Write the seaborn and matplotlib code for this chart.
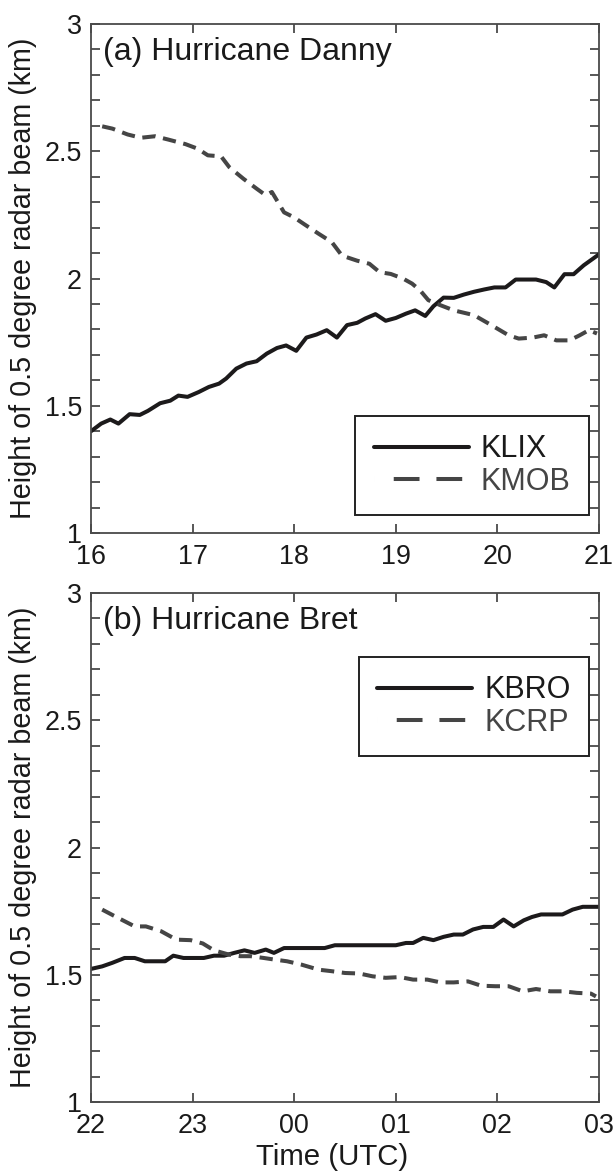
import numpy as np
import pandas as pd
import matplotlib
matplotlib.use("Agg")
import matplotlib.pyplot as plt
from matplotlib.lines import Line2D
from matplotlib.ticker import MultipleLocator, FixedLocator
import seaborn as sns

# ---------------- data ----------------
danny_klix_t = [16.0, 16.1, 16.19, 16.27, 16.38, 16.48, 16.56, 16.68, 16.78, 16.86,
                16.95, 17.06, 17.16, 17.26, 17.33, 17.43, 17.53, 17.63, 17.73, 17.83,
                17.92, 18.02, 18.12, 18.22, 18.32, 18.42, 18.52, 18.62, 18.70, 18.80,
                18.90, 19.0, 19.10, 19.19, 19.29, 19.37, 19.47, 19.57, 19.67, 19.77,
                19.87, 19.97, 20.08, 20.18, 20.28, 20.38, 20.48, 20.56, 20.66, 20.75,
                20.85, 21.0]
danny_klix_h = [1.40, 1.43, 1.446, 1.43, 1.467, 1.464, 1.48, 1.51, 1.52, 1.54,
                1.535, 1.554, 1.574, 1.587, 1.607, 1.646, 1.666, 1.675, 1.705, 1.727,
                1.737, 1.716, 1.768, 1.78, 1.797, 1.768, 1.817, 1.826, 1.843, 1.86,
                1.834, 1.845, 1.862, 1.875, 1.853, 1.891, 1.925, 1.924, 1.937, 1.948,
                1.957, 1.965, 1.965, 1.996, 1.996, 1.996, 1.986, 1.965, 2.017, 2.017,
                2.052, 2.095]
danny_kmob_t = [16.11, 16.21, 16.36, 16.49, 16.63, 16.76, 16.93, 17.05, 17.15, 17.28,
                17.36, 17.50, 17.63, 17.72, 17.78, 17.90, 18.0, 18.10, 18.24, 18.37,
                18.47, 18.62, 18.74, 18.84, 18.95, 19.07, 19.16, 19.24, 19.32, 19.44,
                19.57, 19.77, 19.94, 20.11, 20.21, 20.35, 20.46, 20.58, 20.71, 20.81,
                20.90, 20.98]
danny_kmob_h = [2.598, 2.589, 2.566, 2.553, 2.559, 2.546, 2.528, 2.51, 2.484, 2.48,
                2.438, 2.392, 2.353, 2.327, 2.34, 2.26, 2.24, 2.213, 2.176, 2.143,
                2.09, 2.07, 2.058, 2.025, 2.018, 2.0, 1.98, 1.953, 1.915, 1.895,
                1.875, 1.856, 1.817, 1.777, 1.764, 1.768, 1.777, 1.757, 1.757, 1.777,
                1.797, 1.784]

bret_kbro_t = [22.0, 22.11, 22.21, 22.33, 22.43, 22.53, 22.63, 22.73, 22.81, 22.91,
               23.01, 23.11, 23.21, 23.31, 23.41, 23.51, 23.61, 23.72, 23.80, 23.90,
               24.0, 24.10, 24.20, 24.30, 24.40, 24.50, 24.60, 24.70, 24.80, 24.90,
               25.0, 25.10, 25.17, 25.27, 25.37, 25.47, 25.57, 25.66, 25.76, 25.86,
               25.96, 26.06, 26.16, 26.26, 26.34, 26.43, 26.54, 26.64, 26.74, 26.84,
               27.0]
bret_kbro_h = [1.523, 1.533, 1.547, 1.566, 1.566, 1.553, 1.553, 1.553, 1.575, 1.566,
               1.566, 1.566, 1.575, 1.575, 1.586, 1.596, 1.586, 1.599, 1.586, 1.605,
               1.605, 1.605, 1.605, 1.605, 1.616, 1.616, 1.616, 1.616, 1.616, 1.616,
               1.616, 1.625, 1.625, 1.645, 1.636, 1.649, 1.658, 1.658, 1.678, 1.688,
               1.688, 1.717, 1.69, 1.714, 1.727, 1.737, 1.737, 1.737, 1.756, 1.767,
               1.767]
bret_kcrp_t = [22.11, 22.22, 22.43, 22.54, 22.69, 22.84, 22.98, 23.10, 23.21, 23.36,
               23.47, 23.57, 23.70, 23.80, 23.93, 24.07, 24.24, 24.37, 24.50, 24.64,
               24.77, 24.90, 25.04, 25.17, 25.31, 25.44, 25.57, 25.71, 25.84, 25.98,
               26.11, 26.25, 26.38, 26.52, 26.65, 26.78, 26.92, 26.97]
bret_kcrp_h = [1.756, 1.733, 1.69, 1.69, 1.671, 1.638, 1.636, 1.623, 1.596, 1.579,
               1.573, 1.573, 1.566, 1.56, 1.553, 1.54, 1.52, 1.514, 1.507, 1.505,
               1.494, 1.488, 1.491, 1.481, 1.481, 1.47, 1.47, 1.474, 1.457, 1.455,
               1.455, 1.435, 1.444, 1.435, 1.435, 1.429, 1.426, 1.415]

danny_ticks = [16, 17, 18, 19, 20, 21]
danny_ticklabels = ["16", "17", "18", "19", "20", "21"]
bret_ticks = [22, 23, 24, 25, 26, 27]
bret_ticklabels = ["22", "23", "00", "01", "02", "03"]
y_ticks = [1, 1.5, 2, 2.5, 3]
y_ticklabels = ["1", "1.5", "2", "2.5", "3"]

panel_titles = ["(a) Hurricane Danny", "(b) Hurricane Bret"]
ylabel_text = "Height of 0.5 degree radar beam (km)"
xlabel_text = "Time (UTC)"

# ---------------- style ----------------
sns.set_theme(style="ticks")
plt.rcParams["font.family"] = ["Liberation Sans", "DejaVu Sans"]

SOLID = "#1c1a1b"
DASH = "#454545"
SPINE = "#4a4a4a"
TXT = "#1a1a1a"
LW = 2.9
FS_TICK = 19.4
FS_YLAB = 20.7
FS_XLAB = 21.2
FS_TITLE = 23.0
FS_LEG = 22.0

fig = plt.figure(figsize=(6.15, 11.71), dpi=100)
ax_a = fig.add_axes([0.148, 0.5448, 0.826, 0.4347])
ax_b = fig.add_axes([0.148, 0.0589, 0.826, 0.4347])


def make_df(t1, h1, n1, t2, h2, n2):
    return pd.concat([
        pd.DataFrame({"t": t1, "h": h1, "station": n1}),
        pd.DataFrame({"t": t2, "h": h2, "station": n2}),
    ], ignore_index=True)


panels = [
    (ax_a, make_df(danny_klix_t, danny_klix_h, "KLIX", danny_kmob_t, danny_kmob_h, "KMOB"),
     ("KLIX", "KMOB"), danny_ticks, danny_ticklabels, (16, 21),
     "lower right", (0.980, 0.035)),
    (ax_b, make_df(bret_kbro_t, bret_kbro_h, "KBRO", bret_kcrp_t, bret_kcrp_h, "KCRP"),
     ("KBRO", "KCRP"), bret_ticks, bret_ticklabels, (22, 27),
     "upper right", (0.980, 0.874)),
]

for i, (ax, df, names, xt, xtl, xlim, lloc, lanchor) in enumerate(panels):
    sns.lineplot(data=df, x="t", y="h", hue="station", style="station",
                 palette={names[0]: SOLID, names[1]: DASH},
                 dashes={names[0]: "", names[1]: (3.3, 1.9)},
                 linewidth=LW, ax=ax, legend=False, sort=False)
    ax.set_xlim(*xlim)
    ax.set_ylim(1, 3)
    ax.xaxis.set_major_locator(FixedLocator(xt))
    ax.set_xticklabels(xtl)
    ax.yaxis.set_major_locator(FixedLocator(y_ticks))
    ax.set_yticklabels(y_ticklabels)
    ax.yaxis.set_minor_locator(MultipleLocator(0.1))
    ax.tick_params(which="both", direction="in", top=True, right=True,
                   length=6.5, width=1.3, color=SPINE, labelsize=FS_TICK,
                   labelcolor=TXT)
    ax.tick_params(axis="x", pad=8)
    ax.tick_params(axis="y", pad=6.5)
    for s in ax.spines.values():
        s.set_color(SPINE)
        s.set_linewidth(1.3)
        s.set_visible(True)
    ax.set_xlabel("")
    ax.set_ylabel(ylabel_text, fontsize=FS_YLAB, color=TXT)
    ax.yaxis.set_label_coords(-0.106, 0.5)
    ax.text(0.024, 0.945, panel_titles[i], transform=ax.transAxes,
            fontsize=FS_TITLE, color=TXT, ha="left", va="center")

    handles = [
        Line2D([], [], color=SOLID, lw=LW, linestyle="-"),
        Line2D([], [], color=DASH, lw=LW,
               linestyle=(0, (0.001, 4.9, 6.4, 4.2, 6.4, 20))),
    ]
    leg = ax.legend(handles, names, loc=lloc, bbox_to_anchor=lanchor,
                    borderaxespad=0, fontsize=FS_LEG, handlelength=3.1,
                    handletextpad=0.4, labelspacing=0.08, borderpad=0.6,
                    fancybox=False, framealpha=1, edgecolor="#222222")
    leg.get_frame().set_linewidth(1.4)
    for txt, col in zip(leg.get_texts(), [TXT, DASH]):
        txt.set_color(col)

ax_b.set_xlabel(xlabel_text, fontsize=FS_XLAB, color=TXT)
ax_b.xaxis.set_label_coords(0.475, -0.081)
ax_b.xaxis.label.set_va("top")

fig.savefig("out.png", dpi=100)
